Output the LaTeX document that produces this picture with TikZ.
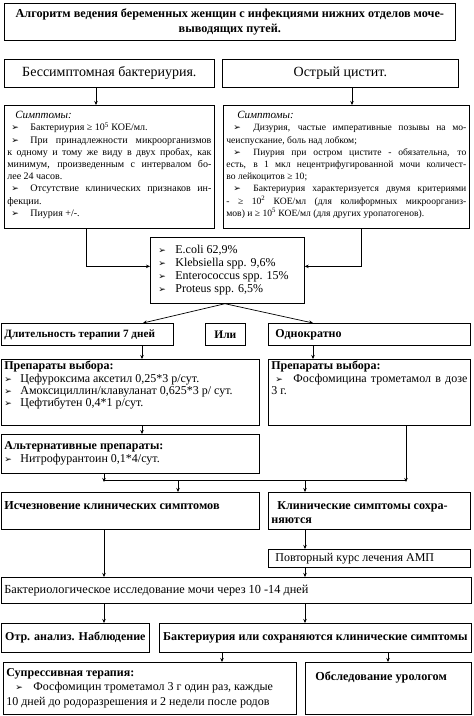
\documentclass[tikz,border=0pt]{standalone}
\usepackage{fontspec}
\setmainfont{Liberation Serif}
\newfontfamily\symf{DejaVu Sans}
\usetikzlibrary{arrows.meta,calc}
\newcommand\mybox[7]{%
  \node[boxst] (#1) at (#2,#3) {\begin{minipage}[t][\dimexpr#5pt-4pt\relax][#6]{\dimexpr#4pt-6pt\relax}#7\end{minipage}};}
\newcommand\bl[2]{\makebox[#2pt][l]{\hspace*{#1pt}{\symf\fontsize{9}{9}\selectfont ➢}}}
\begin{document}
\begin{tikzpicture}[x=1pt,y=-1pt,
  boxst/.style={draw,line width=0.7pt,anchor=north west,inner xsep=3pt,inner ysep=2pt},
  arr/.style={line width=0.7pt,-{Stealth[length=4pt,width=3.5pt]}},
  ln/.style={line width=0.7pt}]
\useasboundingbox[fill=white] (0,0) rectangle (474,716);
% title
\mybox{title}{4}{3}{451}{37}{c}{\centering\fontsize{12.2}{15}\selectfont\bfseries
 Алгоритм ведения беременных женщин с инфекциями нижних отделов моче-\\выводящих путей.}
\mybox{asym}{4}{59}{210}{28}{c}{\centering\fontsize{14}{16}\selectfont Бессимптомная бактериурия.}
\mybox{acute}{222}{59}{236}{28}{c}{\centering\fontsize{14}{16}\selectfont Острый цистит.}
% symptoms left
\mybox{symL}{4}{105}{210}{123}{t}{\fontsize{10}{12.2}\selectfont\tolerance=10000\hyphenpenalty=10000
 \vspace*{4pt}\hspace*{8pt}{\fontsize{11}{12.2}\selectfont\itshape Симптомы:}\par
 \bl{4}{23}Бактериурия ≥ 10\textsuperscript{5} КОЕ/мл.\par
 \bl{4}{23}При принадлежности микроорганизмов\linebreak к одному и тому же виду в двух пробах, как\linebreak минимум, произведенным с интервалом бо-\linebreak лее 24 часов.\par
 \bl{4}{23}Отсутствие клинических признаков ин-\linebreak фекции.\par
 \bl{4}{23}Пиурия +/-.}
% symptoms right
\mybox{symR}{223}{105}{246}{123}{t}{\fontsize{9.6}{12.2}\selectfont\tolerance=10000\hyphenpenalty=10000
 \vspace*{4pt}\hspace*{11pt}{\fontsize{11}{12.2}\selectfont\itshape Симптомы:}\par
 \bl{7}{27}Дизурия, частые императивные позывы на мо-\linebreak чеиспускание, боль над лобком;\par
 \bl{7}{27}Пиурия при остром цистите - обязательна, то\linebreak есть, в 1 мкл нецентрифугированной мочи количест-\linebreak во лейкоцитов ≥ 10;\par
 \bl{7}{27}Бактериурия характеризуется двумя критериями\linebreak - ≥ 10\textsuperscript{2} КОЕ/мл (для колиформных микроорганиз-\linebreak мов) и ≥ 10\textsuperscript{5} КОЕ/мл (для других уропатогенов).}
% bacteria
\mybox{bact}{150}{237}{154}{66}{t}{\fontsize{12}{13}\selectfont\vspace*{6pt}
 \bl{5}{22}E.coli 62,9\%\par
 \bl{5}{22}Klebsiella spp. 9,6\%\par
 \bl{5}{22}Enterococcus spp. 15\%\par
 \bl{5}{22}Proteus spp. 6,5\%}
% therapy row
\mybox{dur}{1}{323}{172}{22}{c}{\fontsize{11.2}{13}\selectfont\bfseries Длительность терапии 7 дней}
\mybox{ili}{205}{323}{40}{22}{c}{\centering\fontsize{11.5}{13}\selectfont\bfseries Или}
\mybox{once}{268}{323}{202}{22}{c}{\fontsize{12}{13}\selectfont\bfseries\hspace*{4pt}Однократно}
% drugs
\mybox{drugL}{1}{359}{258}{66}{t}{\fontsize{12}{12.3}\selectfont\vspace*{0pt}
 \textbf{Препараты выбора:}\par
 \bl{0}{16}Цефуроксима аксетил 0,25*3 р/сут.\par
 \bl{0}{16}Амоксициллин/клавуланат 0,625*3 р/ сут.\par
 \bl{0}{16}Цефтибутен 0,4*1 р/сут.}
\mybox{drugR}{268}{359}{202}{66}{t}{\fontsize{12}{12.5}\selectfont\vspace*{0pt}
 \textbf{Препараты выбора:}\par
 \bl{4}{22}Фосфомицина трометамол в дозе\linebreak 3 г.}
\mybox{alt}{1}{434}{258}{39}{t}{\fontsize{12}{13.5}\selectfont\vspace*{5pt}
 \textbf{Альтернативные препараты:}\par
 \bl{0}{16}Нитрофурантоин 0,1*4/сут.}
% outcome
\mybox{gone}{1}{492}{258}{37}{t}{\fontsize{12.2}{14}\selectfont\bfseries\vspace*{7pt}Исчезновение клинических симптомов}
\mybox{persist}{268}{492}{202}{37}{t}{\fontsize{12.1}{14}\selectfont\bfseries\vspace*{7pt}\hspace*{6pt}Клинические симптомы сохра-\\няются}
\mybox{repeat}{268}{549}{202}{18}{c}{\fontsize{12}{13}\selectfont\hspace*{4pt}Повторный курс лечения АМП}
\mybox{bacter}{1}{577}{470}{26}{c}{\fontsize{12.3}{13}\selectfont Бактериологическое исследование мочи через 10 -14 дней}
\mybox{neg}{1}{623}{148}{29}{c}{\centering\fontsize{12}{13}\selectfont\bfseries Отр. анализ. Наблюдение}
\mybox{bacpers}{159}{623}{312}{29}{c}{\centering\fontsize{12.1}{13}\selectfont\bfseries Бактериурия или сохраняются клинические симптомы}
\mybox{supp}{3}{662}{293}{52}{t}{\fontsize{12}{14.5}\selectfont\vspace*{4pt}
 \textbf{Супрессивная терапия:}\par
 \bl{9}{27}Фосфомицин трометамол 3 г один раз, каждые\par
 10 дней до родоразрешения и 2 недели после родов}
\mybox{uro}{305}{662}{166}{52}{t}{\fontsize{12.2}{13}\selectfont\bfseries\vspace*{7pt}\hspace*{7pt}Обследование урологом}
% connectors
\draw[arr] (asym.south -| 96,0) -- (symL.north -| 96,0);
\draw[arr] (acute.south -| 352,0) -- (symR.north -| 352,0);
\draw[arr] (symL.south -| 86,0) |- ($(bact.west)+(0,-4)$);
\draw[arr] (symR.south -| 361,0) |- ($(bact.east)+(0,-4)$);
\coordinate (bs) at (bact.south -| 225,0);
\draw[arr] (bs) -- (dur.north -| 143,0);
\draw[arr] (bs) -- (once.north -| 313,0);
\draw[arr] (dur.south -| 142,0) -- (drugL.north -| 142,0);
\draw[arr] (once.south -| 313,0) -- (drugR.north -| 313,0);
\draw[arr] (drugL.south -| 142,0) -- (alt.north -| 142,0);
\coordinate (jl) at (104,480);
\coordinate (jr) at (406,480);
\draw[arr] (alt.south -| 104,0) -- ($(jl)+(0,2)$);
\draw[arr] (drugR.south -| 406,0) -- ($(jr)+(0,2)$);
\draw[ln] (jl) -- (jr);
\draw[arr] (jl -| 178,0) -- (gone.north -| 178,0);
\draw[arr] (jl -| 305,0) -- (persist.north -| 305,0);
\draw[arr] (persist.south -| 305,0) -- (repeat.north -| 305,0);
\draw[arr] (gone.south -| 104,0) -- (bacter.north -| 104,0);
\draw[arr] (repeat.south -| 305,0) -- (bacter.north -| 305,0);
\draw[arr] (bacter.south -| 104,0) -- (neg.north -| 104,0);
\draw[arr] (bacter.south -| 305,0) -- (bacpers.north -| 305,0);
\draw[arr] (bacpers.south -| 222,0) -- (supp.north -| 222,0);
\draw[arr] (bacpers.south -| 388,0) -- (uro.north -| 388,0);
\end{tikzpicture}
\end{document}
